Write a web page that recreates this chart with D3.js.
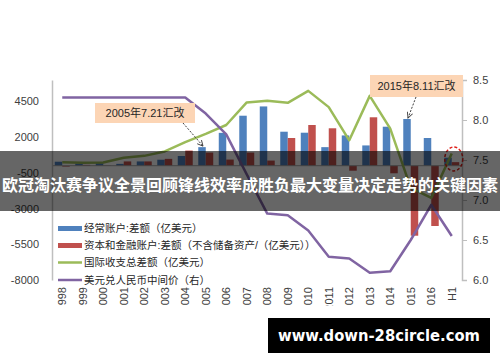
<!DOCTYPE html>
<html><head><meta charset="utf-8">
<script src="https://cdn.jsdelivr.net/npm/d3@7"></script>
<style>
html,body{margin:0;padding:0;background:#fff;}
svg{display:block;font-family:"Liberation Sans","Noto Sans CJK SC",sans-serif;}
</style></head>
<body>
<svg id="c" width="500" height="362"></svg>
<script>
// ---- data ----
const years = ["1998","1999","2000","2001","2002","2003","2004","2005","2006","2007","2008","2009","2010","2011","2012","2013","2014","2015","2016","H1"];
const currentAccount = [280,150,180,130,300,420,680,1300,2300,3500,4150,2380,2310,1300,2120,1420,2730,3270,1940,560];
const capitalAccount = [-60,60,20,300,300,480,1060,920,430,920,360,1940,2850,2620,-350,3390,-530,-4900,-4220,250];
const totalBalance   = [240,200,220,560,690,1000,1650,2230,2850,4430,4550,4400,5240,4100,1780,4890,2600,-1550,-2250,850];
const usdCny         = [8.28,8.28,8.28,8.28,8.28,8.28,8.28,8.08,7.82,7.32,6.83,6.81,6.62,6.29,6.27,6.09,6.11,6.50,6.94,6.55];
const leftTicks  = [-8000,-5500,-3000,-500,2000,4500];
const rightTicks = [6.0,6.5,7.0,7.5,8.0,8.5];
const seriesNames = ["经常账户:差额（亿美元）","资本和金融账户:差额（不含储备资产/（亿美元））","国际收支总差额（亿美元）","美元兑人民币中间价（右）"];
const colors = ["#4F81BD","#C0504D","#9BBB59","#8064A2"];
const notes = [{text:"2005年7.21汇改", year:"2005"},{text:"2015年8.11汇改", year:"2015"}];
const title = "欧冠淘汰赛争议全景回顾锋线效率成胜负最大变量决定走势的关键因素";
const watermark = "www.down-28circle.com";

const svg = d3.select("#c");
const L = 52, R = 462, T = 80, B = 280;

const x = d3.scaleBand().domain(years).range([L, R]).paddingInner(0.27).paddingOuter(0.135);
const x1 = d3.scaleBand().domain(["ca","kf"]).range([0, x.bandwidth()]);
const y = d3.scaleLinear().domain([-8000, 6000]).range([B, T]);
const y2 = d3.scaleLinear().domain([6.0, 8.5]).range([B, T]);

// bars
const g = svg.append("g");
years.forEach((yr, i) => {
  [["ca", currentAccount[i], colors[0]], ["kf", capitalAccount[i], colors[1]]].forEach(([k, v, c]) => {
    g.append("rect")
      .attr("x", x(yr) + x1(k))
      .attr("width", x1.bandwidth())
      .attr("y", Math.min(y(v), y(0)))
      .attr("height", Math.abs(y(v) - y(0)))
      .attr("fill", c);
  });
});

// zero axis line
svg.append("line").attr("x1", L).attr("x2", R).attr("y1", y(0)).attr("y2", y(0))
  .attr("stroke", "#a6a6a6").attr("stroke-width", 1);

// left axis
const la = svg.append("g").attr("transform", `translate(${L},0)`)
  .call(d3.axisLeft(y).tickValues(leftTicks).tickSize(0).tickPadding(13).tickFormat(d => String(d)));
la.select(".domain").attr("stroke", "#bfbfbf").attr("stroke-width", 1.5);
la.selectAll("text").attr("font-size", 11).attr("fill", "#404040").attr("font-family", "Liberation Sans");

// right axis
const ra = svg.append("g").attr("transform", `translate(${R},0)`)
  .call(d3.axisRight(y2).tickValues(rightTicks).tickSize(5).tickPadding(6).tickFormat(d3.format(".1f")));
ra.select(".domain").attr("stroke", "#bfbfbf").attr("stroke-width", 1.5);
ra.selectAll(".tick line").attr("stroke", "#bfbfbf");
ra.selectAll("text").attr("font-size", 11).attr("fill", "#404040").attr("font-family", "Liberation Sans");

// x labels (rotated, cut at bottom like reference)
svg.append("clipPath").attr("id", "xclip").append("rect").attr("x", 0).attr("y", 0).attr("width", 500).attr("height", 305.5);
const xl = svg.append("g").attr("clip-path", "url(#xclip)");
years.forEach(yr => {
  xl.append("text")
    .attr("transform", `translate(${x(yr) + x.bandwidth() / 2},287) rotate(-90)`)
    .attr("text-anchor", "end").attr("dy", "0.35em")
    .attr("font-size", 11).attr("fill", "#404040").attr("font-family", "Liberation Sans")
    .text(yr);
});

// lines
const cx = (d, i) => x(years[i]) + x.bandwidth() / 2;
svg.append("path").datum(totalBalance)
  .attr("d", d3.line().x(cx).y(d => y(d)))
  .attr("fill", "none").attr("stroke", colors[2]).attr("stroke-width", 2.5).attr("stroke-linejoin", "round");
svg.append("path").datum(usdCny)
  .attr("d", d3.line().x(cx).y(d => y2(d)))
  .attr("fill", "none").attr("stroke", colors[3]).attr("stroke-width", 2.5).attr("stroke-linejoin", "round");

// arrow marker
svg.append("defs").append("marker").attr("id", "arr").attr("viewBox", "0 0 10 10")
  .attr("refX", 9).attr("refY", 5).attr("markerWidth", 7).attr("markerHeight", 7).attr("orient", "auto")
  .append("path").attr("d", "M1,1 L9,5 L1,9").attr("fill", "none").attr("stroke", "#404040").attr("stroke-width", 1.3);

// annotations
const boxes = [
  {x: 95, y: 103, w: 100, h: 20, ax1: 183, ay1: 123},
  {x: 370, y: 75, w: 93, h: 22, ax1: 416, ay1: 97}
];
notes.forEach((n, i) => {
  const b = boxes[i];
  const idx = years.indexOf(n.year);
  svg.append("rect").attr("x", b.x).attr("y", b.y).attr("width", b.w).attr("height", b.h).attr("fill", "#FCD5B5");
  svg.append("text").attr("x", b.x + b.w / 2).attr("y", b.y + b.h / 2).attr("dy", "0.36em")
    .attr("text-anchor", "middle").attr("font-size", 11).attr("fill", "#262626").text(n.text);
  const tx = x(n.year) + x1("ca") + x1.bandwidth() / 2 + 1;
  const ty = y(currentAccount[idx]) - 1;
  svg.append("line").attr("x1", b.ax1).attr("y1", b.ay1).attr("x2", tx).attr("y2", ty)
    .attr("stroke", "#404040").attr("stroke-width", 1).attr("stroke-dasharray", "2,1.5").attr("marker-end", "url(#arr)");
});

// red dashed ellipse around H1
svg.append("ellipse").attr("cx", x("H1") + x.bandwidth() / 2 + 2).attr("cy", 159).attr("rx", 9).attr("ry", 12)
  .attr("fill", "none").attr("stroke", "#E0201B").attr("stroke-width", 1.5).attr("stroke-dasharray", "3,2");

// legend
const lg = svg.append("g");
const ly = [228.5, 245.5, 262.5, 280];
seriesNames.forEach((s, i) => {
  if (i < 2) lg.append("rect").attr("x", 58).attr("y", ly[i] - 2.5).attr("width", 24).attr("height", 5).attr("fill", colors[i]);
  else lg.append("line").attr("x1", 58).attr("x2", 82).attr("y1", ly[i]).attr("y2", ly[i]).attr("stroke", colors[i]).attr("stroke-width", 2.5);
  lg.append("text").attr("x", 84).attr("y", ly[i]).attr("dy", "0.36em").attr("font-size", 10.5).attr("fill", "#262626").text(s);
});

// overlay band with title
svg.append("rect").attr("x", 0).attr("y", 151).attr("width", 500).attr("height", 60).attr("fill", "rgba(0,0,0,0.6)");
svg.append("text").attr("x", 250).attr("y", 185).attr("dy", "0.36em").attr("text-anchor", "middle")
  .attr("font-size", 16).attr("font-weight", "bold").attr("fill", "#fff")
  .attr("font-family", "Noto Sans CJK SC").text(title);

// watermark
svg.append("rect").attr("x", 268).attr("y", 318).attr("width", 222).attr("height", 35).attr("fill", "#000");
svg.append("text").attr("x", 379).attr("y", 336).attr("dy", "0.35em").attr("text-anchor", "middle")
  .attr("font-size", 15).attr("font-weight", "bold").attr("fill", "#fff").attr("font-family", "DejaVu Sans")
  .attr("textLength", 202).attr("lengthAdjust", "spacingAndGlyphs").text(watermark);
</script>
</body></html>
